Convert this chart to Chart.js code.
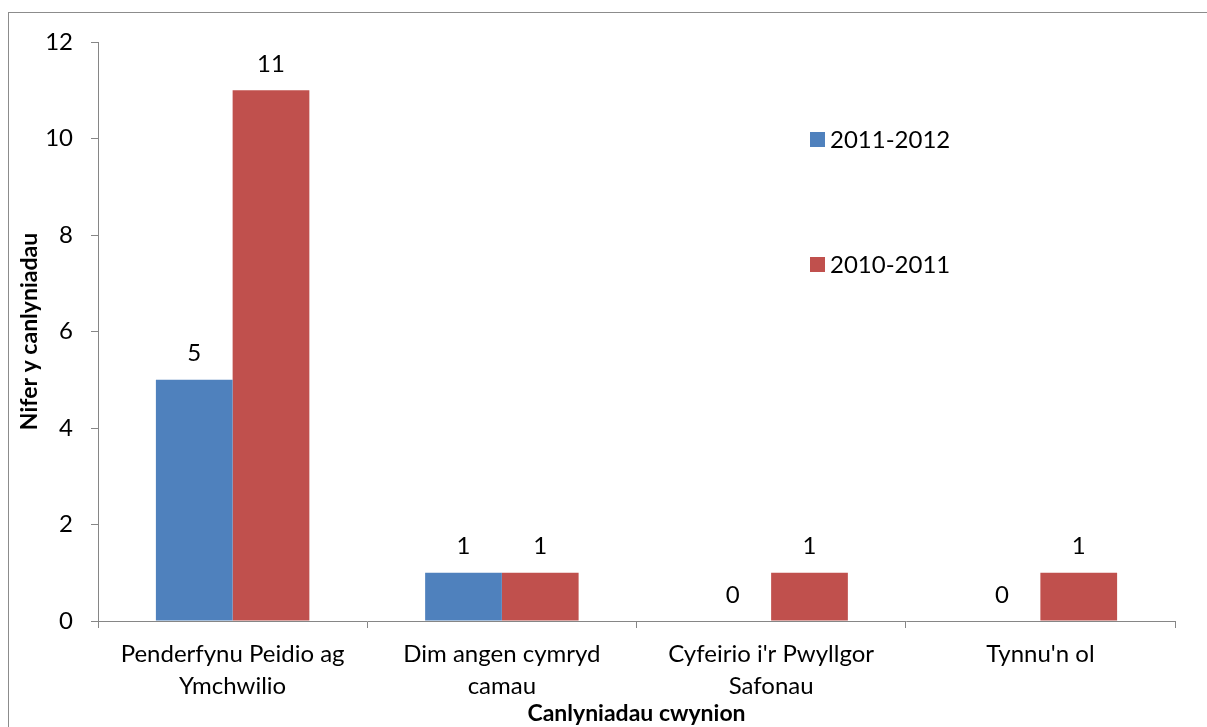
<!DOCTYPE html>
<html>
<head>
<meta charset="utf-8">
<script src="https://cdn.jsdelivr.net/npm/chart.js@4/dist/chart.umd.min.js"></script>
<style>
  html, body { margin: 0; padding: 0; background: #fff; overflow: hidden; }
  #wrap { width: 1207px; height: 727px; position: relative; }
</style>
</head>
<body>
<div id="wrap"><canvas id="myChart" width="1207" height="727"></canvas></div>
<script>
var categories = [
    ['Penderfynu Peidio ag', 'Ymchwilio'],
    ['Dim angen cymryd', 'camau'],
    ["Cyfeirio i'r Pwyllgor", 'Safonau'],
    ["Tynnu'n ol"]
];
var seriesNames = ['2011-2012', '2010-2011'];
var values2011_2012 = [5, 1, 0, 0];
var values2010_2011 = [11, 1, 1, 1];
var yTicks = [0, 2, 4, 6, 8, 10, 12];

var FONT = 'Lato, "Open Sans", sans-serif';
var FS = 24;
var axisGray = '#868686';
var colours = ['#4F81BD', '#C0504D'];

// frame round the whole chart
var framePlugin = {
    id: 'frame',
    beforeDraw: function(chart) {
        var c = chart.ctx;
        c.save();
        c.fillStyle = '#fff';
        c.fillRect(0, 0, chart.width, chart.height);
        c.strokeStyle = '#8c8c8c';
        c.lineWidth = 1;
        c.strokeRect(8.5, 12.5, chart.width + 10, chart.height + 10);
        c.restore();
    }
};

// value labels above the bars
var valueLabels = {
    id: 'valueLabels',
    afterDatasetsDraw: function(chart) {
        var c = chart.ctx;
        c.save();
        c.font = FS + 'px ' + FONT;
        c.fillStyle = '#000';
        c.textAlign = 'center';
        c.textBaseline = 'bottom';
        chart.data.datasets.forEach(function(ds, i) {
            var meta = chart.getDatasetMeta(i);
            meta.data.forEach(function(bar, j) {
                c.fillText(String(ds.data[j]), bar.x, bar.y - 14);
            });
        });
        c.restore();
    }
};

// legend sitting inside the plot, entries far apart
var sideLegend = {
    id: 'sideLegend',
    afterDraw: function(chart) {
        var c = chart.ctx;
        var rows = [140, 265];
        c.save();
        c.font = FS + 'px ' + FONT;
        c.textBaseline = 'middle';
        c.textAlign = 'left';
        chart.data.datasets.forEach(function(ds, i) {
            c.fillStyle = ds.backgroundColor;
            c.fillRect(810, rows[i] - 8, 15, 15);
            c.fillStyle = '#000';
            c.fillText(ds.label, 830, rows[i]);
        });
        c.restore();
    }
};

var ctx = document.getElementById('myChart').getContext('2d');
var chart = new Chart(ctx, {
    type: 'bar',
    data: {
        labels: categories,
        datasets: [{
            label: seriesNames[0],
            data: values2011_2012,
            backgroundColor: colours[0]
        }, {
            label: seriesNames[1],
            data: values2010_2011,
            backgroundColor: colours[1]
        }]
    },
    options: {
        responsive: false,
        animation: false,
        events: [],
        layout: { padding: { left: 8, top: 42, right: 32, bottom: 0 } },
        datasets: {
            bar: { categoryPercentage: 0.57, barPercentage: 1.0 }
        },
        plugins: {
            legend: { display: false },
            tooltip: { enabled: false }
        },
        scales: {
            x: {
                grid: {
                    display: true,
                    drawOnChartArea: false,
                    drawTicks: true,
                    tickLength: 7,
                    color: axisGray,
                    offset: true
                },
                border: { display: true, color: axisGray, width: 1 },
                ticks: {
                    color: '#000',
                    font: { family: FONT, size: FS, lineHeight: 1.33 },
                    padding: 10,
                    maxRotation: 0,
                    autoSkip: false
                },
                title: {
                    display: true,
                    text: 'Canlyniadau cwynion',
                    color: '#000',
                    font: { family: FONT, size: FS - 1, weight: 'bold' },
                    padding: { top: 0, bottom: 0 }
                },
                afterFit: function(scale) { scale.height = 106; }
            },
            y: {
                min: 0,
                max: 12,
                afterBuildTicks: function(scale) {
                    scale.ticks = yTicks.map(function(v) { return { value: v }; });
                },
                grid: {
                    display: true,
                    drawOnChartArea: false,
                    drawTicks: true,
                    tickLength: 7,
                    color: axisGray
                },
                border: { display: true, color: axisGray, width: 1 },
                ticks: {
                    color: '#000',
                    font: { family: FONT, size: FS },
                    padding: 18
                },
                title: {
                    display: true,
                    text: 'Nifer y canlyniadau',
                    color: '#000',
                    font: { family: FONT, size: FS - 1, weight: 'bold' },
                    padding: { top: 8, bottom: 0 }
                },
                afterFit: function(scale) { scale.width = 90; }
            }
        }
    },
    plugins: [framePlugin, valueLabels, sideLegend]
});
</script>
</body>
</html>
